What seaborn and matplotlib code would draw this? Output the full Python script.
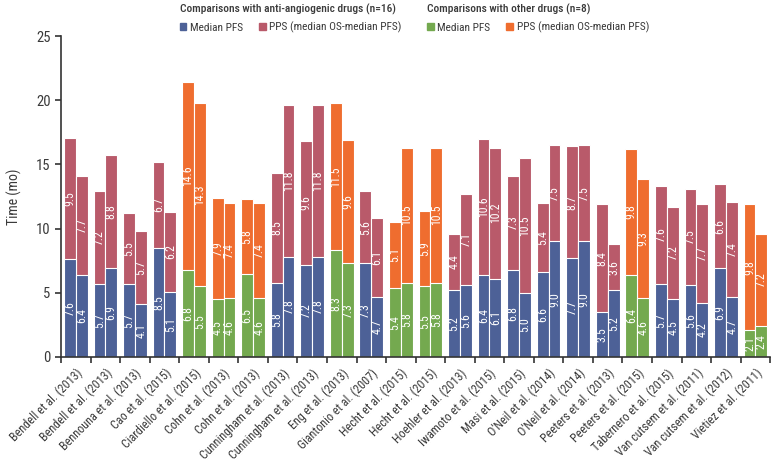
"""
PFS / PPS stacked bars by study arm
"""
import pandas as pd
import matplotlib.pyplot as plt
import seaborn as sns
from matplotlib import font_manager
from matplotlib.patches import Patch

# --- data ---
studies = ["Bendell et al. (2013)", "Bendell et al. (2013)", "Bennouna et al. (2013)", "Cao et al. (2015)",
           "Ciardiello et al. (2015)", "Cohn et al. (2013)", "Cohn et al. (2013)", "Cunningham et al. (2013)",
           "Cunningham et al. (2013)", "Eng et al. (2013)", "Giantonio et al. (2007)", "Hecht et al. (2015)",
           "Hecht et al. (2015)", "Hoehler et al. (2013)", "Iwamoto et al. (2015)", "Masi et al. (2015)",
           "O'Neil et al. (2014)", "O'Neil et al. (2014)", "Peeters et al. (2013)", "Peeters et al. (2015)",
           "Tabernero et al. (2015)", "Van cutsem et al. (2011)", "Van cutsem et al. (2012)", "Vietiez et al. (2011)"]
drug_type = ["anti", "anti", "anti", "anti", "other", "other", "other", "anti",
             "anti", "other", "anti", "other", "other", "anti", "anti", "anti",
             "anti", "anti", "anti", "other", "anti", "anti", "anti", "other"]
pfs_arm1 = [7.6, 5.7, 5.7, 8.5, 6.8, 4.5, 6.5, 5.8, 7.2, 8.3, 7.3, 5.4, 5.5, 5.2, 6.4, 6.8, 6.6, 7.7, 3.5, 6.4, 5.7, 5.6, 6.9, 2.1]
pfs_arm2 = [6.4, 6.9, 4.1, 5.1, 5.5, 4.6, 4.6, 7.8, 7.8, 7.3, 4.7, 5.8, 5.8, 5.6, 6.1, 5.0, 9.0, 9.0, 5.2, 4.6, 4.5, 4.2, 4.7, 2.4]
pps_arm1 = [9.5, 7.2, 5.5, 6.7, 14.6, 7.9, 5.8, 8.5, 9.6, 11.5, 5.6, 5.1, 5.9, 4.4, 10.6, 7.3, 5.4, 8.7, 8.4, 9.8, 7.6, 7.5, 6.6, 9.8]
pps_arm2 = [7.7, 8.8, 5.7, 6.2, 14.3, 7.4, 7.4, 11.8, 11.8, 9.6, 6.1, 10.5, 10.5, 7.1, 10.2, 10.5, 7.5, 7.5, 3.6, 9.3, 7.2, 7.7, 7.4, 7.2]

# colours: (PFS, PPS)
colors = {"anti": ("#4d6197", "#b95a6a"), "other": ("#74a94f", "#ef6d2f")}
text_col = "#3a3a3a"

sns.set_style("ticks")


# --- pick a condensed font if there is one ---
def setup_font():
    fonts = font_manager.fontManager.ttflist
    names = {f.name for f in fonts}
    for nm in ("Liberation Sans Narrow", "Roboto Condensed", "Open Sans Condensed", "DejaVu Sans Condensed"):
        if nm in names:
            plt.rcParams['font.family'] = [nm, 'DejaVu Sans']
            return 1.0
    for f in fonts:
        if f.name in ("DejaVu Sans", "Roboto", "Open Sans", "Noto Sans") and f.stretch in ("condensed", "semi-condensed"):
            plt.rcParams['font.family'] = [f.name, 'DejaVu Sans']
            plt.rcParams['font.stretch'] = f.stretch
            return 0.95
    plt.rcParams['font.family'] = ['Liberation Sans', 'DejaVu Sans']
    return 0.82


fs = setup_font()


def build_frame():
    rows = []
    for i in range(len(studies)):
        for arm, pfs, pps in (("A", pfs_arm1[i], pps_arm1[i]), ("B", pfs_arm2[i], pps_arm2[i])):
            rows.append({"sid": i, "arm": arm, "pfs": pfs, "pps": pps, "os": pfs + pps})
    return pd.DataFrame(rows)


def main():
    df = build_frame()
    fig = plt.figure(figsize=(7.78, 4.63), dpi=100)
    ax = fig.add_axes([0.0784, 0.229, 0.9116, 0.693])

    # total (OS) bars first, then PFS on top -> stacked look
    sns.barplot(data=df, x="sid", y="os", hue="arm", dodge=True, width=0.8,
                palette=["#999999", "#999999"], edgecolor="white", linewidth=0.8,
                legend=False, ax=ax, errorbar=None)
    n_tot = len(ax.containers)
    sns.barplot(data=df, x="sid", y="pfs", hue="arm", dodge=True, width=0.8,
                palette=["#999999", "#999999"], edgecolor="white", linewidth=0.8,
                legend=False, ax=ax, errorbar=None)

    tot_conts = ax.containers[:n_tot]
    pfs_conts = ax.containers[n_tot:]
    pps_vals = [pps_arm1, pps_arm2]
    pfs_vals = [pfs_arm1, pfs_arm2]
    for k in range(2):
        for i, (pt, pp) in enumerate(zip(tot_conts[k], pfs_conts[k])):
            c_pfs, c_pps = colors[drug_type[i]]
            pt.set_facecolor(c_pps)
            pp.set_facecolor(c_pfs)
            xc = pp.get_x() + pp.get_width() / 2
            ax.text(xc, pfs_vals[k][i] / 2, f"{pfs_vals[k][i]:.1f}", rotation=90,
                    ha="center", va="center", color="white", fontsize=8.5 * fs)
            ax.text(xc, pfs_vals[k][i] + pps_vals[k][i] / 2, f"{pps_vals[k][i]:.1f}",
                    rotation=90, ha="center", va="center", color="white", fontsize=8.5 * fs)

    # axes styling
    ax.set_xlim(-0.5, len(studies) - 0.5)
    ax.set_ylim(0, 25)
    ax.set_yticks(range(0, 26, 5))
    ax.set_ylabel("Time (mo)", fontsize=10 * fs, color=text_col, labelpad=10)
    ax.set_xlabel("")
    ax.set_xticks(range(len(studies)))
    ax.set_xticklabels(studies, rotation=45, ha="right", rotation_mode="anchor",
                       fontsize=8.7 * fs, color=text_col)
    ax.set_xticks([i - 0.5 for i in range(len(studies) + 1)], minor=True)
    ax.tick_params(axis="x", which="major", length=0, pad=7)
    ax.tick_params(axis="x", which="minor", length=4, width=1.2, color="#333333")
    ax.tick_params(axis="y", length=4, width=1.2, color="#333333", labelsize=10.5 * fs, labelcolor=text_col)
    for s in ("top", "right"):
        ax.spines[s].set_visible(False)
    for s in ("left", "bottom"):
        ax.spines[s].set_linewidth(1.2)
        ax.spines[s].set_color("#333333")

    # two legends at the top
    h1 = [Patch(color=colors["anti"][0]), Patch(color=colors["anti"][1])]
    h2 = [Patch(color=colors["other"][0]), Patch(color=colors["other"][1])]
    labs = ["Median PFS", "PPS (median OS-median PFS)"]
    for handles, title, x0 in ((h1, "Comparisons with anti-angiogenic drugs (n=16)", 0.228),
                               (h2, "Comparisons with other drugs (n=8)", 0.546)):
        leg = fig.legend(handles, labs, title=title, loc="upper left", bbox_to_anchor=(x0, 0.997),
                         ncol=2, frameon=False, fontsize=8.2 * fs, title_fontsize=8.2 * fs,
                         handlelength=0.6, handleheight=0.6, handletextpad=0.3,
                         columnspacing=1.4, borderpad=0.1, borderaxespad=0.1, labelspacing=0.6,
                         alignment="left")
        for t in leg.get_texts():
            t.set_color(text_col)
        leg.get_title().set_color(text_col)
        leg.get_title().set_fontweight("medium")

    fig.savefig("out.png", dpi=100)
    plt.close(fig)


if __name__ == '__main__':
    main()
